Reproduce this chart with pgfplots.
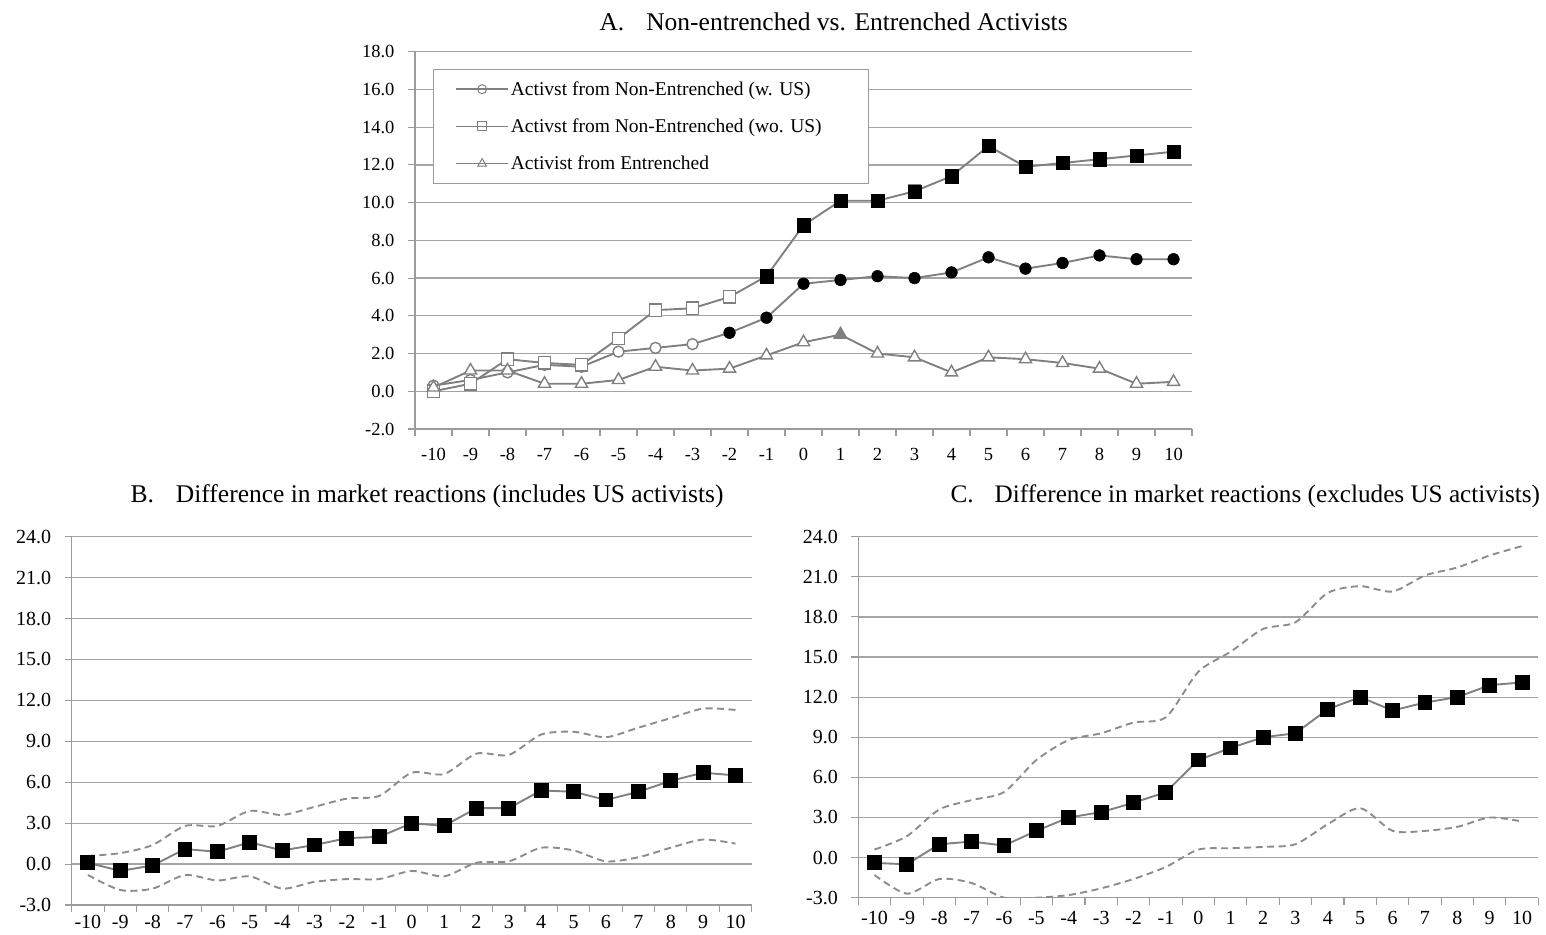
\documentclass[border=0pt]{standalone}
\usepackage{fontspec}
\setmainfont{Liberation Serif}
\usepackage{pgfplots}
\pgfplotsset{compat=1.18}
\usepackage{pgfplotstable}

\definecolor{linegray}{RGB}{128,128,128}
\definecolor{gridgray}{RGB}{165,165,165}
\definecolor{axisgray}{RGB}{155,155,155}
\definecolor{dashgray}{RGB}{140,140,140}

\pgfplotstableread{
x w wo ent
-10 0.3 0.0 0.2
-9 0.6 0.4 1.1
-8 1.0 1.7 1.1
-7 1.4 1.5 0.4
-6 1.3 1.4 0.4
-5 2.1 2.8 0.6
-4 2.3 4.3 1.3
-3 2.5 4.4 1.1
-2 3.1 5.0 1.2
-1 3.9 6.1 1.9
0 5.7 8.8 2.6
1 5.9 10.1 3.0
2 6.1 10.1 2.0
3 6.0 10.6 1.8
4 6.3 11.4 1.0
5 7.1 13.0 1.8
6 6.5 11.9 1.7
7 6.8 12.1 1.5
8 7.2 12.3 1.2
9 7.0 12.5 0.4
10 7.0 12.7 0.5
}\tableA

\pgfplotstableread{
x mid up lo
-10 0.1 0.6 -0.8
-9 -0.5 0.8 -1.9
-8 -0.1 1.4 -1.8
-7 1.1 2.8 -0.8
-6 0.9 2.8 -1.2
-5 1.6 3.9 -0.9
-4 1.0 3.6 -1.8
-3 1.4 4.2 -1.3
-2 1.9 4.8 -1.1
-1 2.0 5.0 -1.1
0 3.0 6.7 -0.5
1 2.8 6.6 -0.9
2 4.1 8.1 0.1
3 4.1 8.0 0.2
4 5.4 9.5 1.2
5 5.3 9.7 1.0
6 4.7 9.3 0.2
7 5.3 10.0 0.5
8 6.1 10.7 1.2
9 6.7 11.4 1.8
10 6.5 11.3 1.5
}\tableB

\pgfplotstableread{
x mid up lo
-10 -0.4 0.6 -1.3
-9 -0.5 1.6 -2.7
-8 1.0 3.6 -1.6
-7 1.2 4.3 -1.9
-6 0.9 4.9 -3.0
-5 2.0 7.3 -3.0
-4 3.0 8.8 -2.8
-3 3.4 9.3 -2.3
-2 4.1 10.1 -1.6
-1 4.9 10.5 -0.7
0 7.3 13.9 0.6
1 8.2 15.4 0.7
2 9.0 17.1 0.8
3 9.3 17.6 1.0
4 11.1 19.8 2.5
5 12.0 20.3 3.7
6 11.0 19.9 2.0
7 11.6 21.1 2.0
8 12.0 21.7 2.3
9 12.9 22.6 3.0
10 13.1 23.3 2.7
}\tableC

\pgfplotsset{
  panel/.style={
    scale only axis,
    xmin=-10.5, xmax=10.5,
    xtick={-10,...,10},
    xticklabels={-10,-9,-8,-7,-6,-5,-4,-3,-2,-1,0,1,2,3,4,5,6,7,8,9,10},
    minor xtick={-10.5,-9.5,...,10.5},
    major x tick style={draw=none},
    tick align=outside,
    major tick length=7pt,
    minor tick length=7pt,
    every tick/.style={axisgray, line width=1.1pt},
    axis x line*=bottom,
    axis y line*=left,
    axis line style={axisgray, line width=1.3pt, -},
    ymajorgrids,
    major grid style={gridgray, line width=1.3pt},
    yticklabel style={xshift=-10pt},
    clip=true,
  },
  mainline/.style={linegray, line width=1.9pt},
  dashline/.style={dashgray, line width=1.9pt, dash pattern=on 7pt off 4.5pt, smooth, tension=0.45},
}

\begin{document}
\begin{tikzpicture}
\useasboundingbox (0,0) rectangle (1546pt,-934pt);

% ---------- Panel A ----------
\node[anchor=west, font=\fontsize{25.5}{28}\selectfont] at (596pt,-22pt) {A.\hspace{22pt}Non-entrenched vs. Entrenched Activists};
\begin{axis}[panel,
  at={(415pt,-51.7pt)}, anchor=north west,
  width=777pt, height=377.3pt,
  ymin=-2, ymax=18,
  ytick={-2,0,...,18},
  yticklabels={-2.0,0.0,2.0,4.0,6.0,8.0,10.0,12.0,14.0,16.0,18.0},
  tick label style={font=\fontsize{18.5}{20}\selectfont},
  xticklabel style={yshift=-9pt},
  legend style={at={(0.023,0.954)}, anchor=north west, draw=axisgray, line width=1pt,
    font=\fontsize{19.5}{22}\selectfont, row sep=18pt, inner xsep=22pt, inner ysep=10pt, fill=white},
  legend cell align=left,
  legend image code/.code={\draw[mark repeat=2,mark phase=2,#1] plot coordinates {(0pt,0pt) (26pt,0pt) (52pt,0pt)};},
]
\addlegendimage{mainline, line width=1.5pt, mark=o, mark size=4.5pt, mark options={draw=linegray, fill=white, line width=1pt}}
\addlegendentry{Activst from Non-Entrenched (w. US)}
\addlegendimage{mainline, line width=1.5pt, mark=square, mark size=4.5pt, mark options={draw=linegray, fill=white, line width=1pt}}
\addlegendentry{\makebox[334pt][l]{Activst from Non-Entrenched (wo. US)}}
\addlegendimage{mainline, line width=1.5pt, mark=triangle, mark size=5pt, mark options={draw=linegray, fill=white, line width=1pt}}
\addlegendentry{Activist from Entrenched}

\addplot[mainline, forget plot] table[x=x,y=w]{\tableA};
\addplot[mainline, forget plot] table[x=x,y=wo]{\tableA};
\addplot[mainline, forget plot] table[x=x,y=ent]{\tableA};

\addplot[only marks, mark=*, mark size=5.5pt, mark options={draw=linegray, fill=white, line width=1.4pt}, forget plot] table[x=x,y=w]{\tableA};
\addplot[only marks, mark=*, mark size=5.8pt, mark options={draw=black, fill=black}, restrict x to domain=-2:10, forget plot] table[x=x,y=w]{\tableA};

\addplot[only marks, mark=square*, mark size=6.2pt, mark options={draw=linegray, fill=white, line width=1.4pt}, forget plot] table[x=x,y=wo]{\tableA};
\addplot[only marks, mark=square*, mark size=6.6pt, mark options={draw=black, fill=black}, restrict x to domain=-1:10, forget plot] table[x=x,y=wo]{\tableA};

\addplot[only marks, mark=triangle*, mark size=7pt, mark options={draw=linegray, fill=white, line width=1.4pt}, forget plot] table[x=x,y=ent]{\tableA};
\addplot[only marks, mark=triangle*, mark size=7pt, mark options={draw=linegray, fill=linegray, line width=1.4pt}, restrict x to domain=1:1, forget plot] table[x=x,y=ent]{\tableA};
\end{axis}

% ---------- Panel B ----------
\node[anchor=west, font=\fontsize{25.5}{28}\selectfont] at (127pt,-496pt) {B.\hspace{22pt}Difference in market reactions (includes US activists)};
\begin{axis}[panel,
  at={(71.7pt,-536.7pt)}, anchor=north west,
  width=680pt, height=368.3pt,
  ymin=-3, ymax=24,
  ytick={-3,0,...,24},
  yticklabels={-3.0,0.0,3.0,6.0,9.0,12.0,15.0,18.0,21.0,24.0},
  tick label style={font=\fontsize{20}{22}\selectfont},
]
\addplot[dashline] table[x=x,y=up]{\tableB};
\addplot[dashline] table[x=x,y=lo]{\tableB};
\addplot[mainline, mark=square*, mark size=6.5pt, mark options={draw=black, fill=black}] table[x=x,y=mid]{\tableB};
\end{axis}

% ---------- Panel C ----------
\node[anchor=west, font=\fontsize{25.2}{28}\selectfont] at (947pt,-496pt) {C.\hspace{21pt}Difference in market reactions (excludes US activists)};
\begin{axis}[panel,
  at={(858.3pt,-536.7pt)}, anchor=north west,
  width=680pt, height=361pt,
  ymin=-3, ymax=24,
  ytick={-3,0,...,24},
  yticklabels={-3.0,0.0,3.0,6.0,9.0,12.0,15.0,18.0,21.0,24.0},
  tick label style={font=\fontsize{20}{22}\selectfont},
  xticklabel style={yshift=-3pt},
]
\addplot[dashline] table[x=x,y=up]{\tableC};
\addplot[dashline] table[x=x,y=lo]{\tableC};
\addplot[mainline, mark=square*, mark size=6.5pt, mark options={draw=black, fill=black}] table[x=x,y=mid]{\tableC};
\end{axis}
\end{tikzpicture}
\end{document}
